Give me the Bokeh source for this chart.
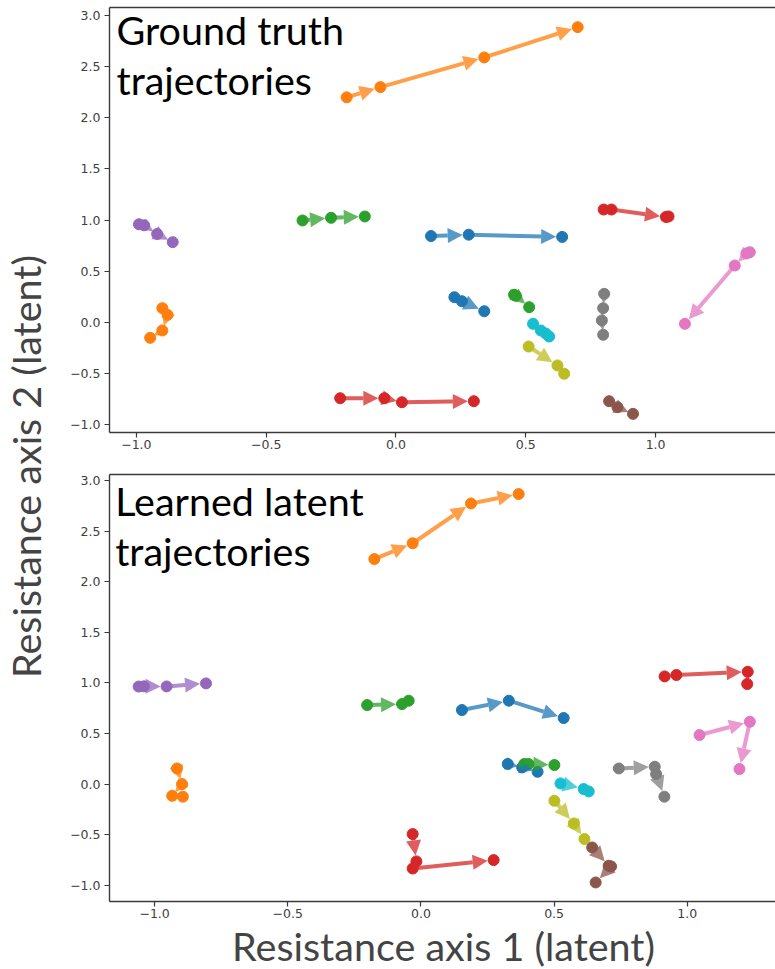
import math
from bokeh.plotting import figure
from bokeh.layouts import row, column
from bokeh.models import (Range1d, FixedTicker, CustomJSTickFormatter, LinearAxis,
                          Arrow, NormalHead, Label)
from bokeh.embed import file_html
from bokeh.resources import INLINE

# ---------------- data ----------------
traj_colors = ["#ff7f0e", "#9467bd", "#2ca02c", "#1f77b4", "#d62728", "#ff7f0e", "#d62728",
               "#1f77b4", "#2ca02c", "#17becf", "#bcbd22", "#7f7f7f", "#e377c2", "#8c564b"]

# Ground truth trajectories (one list per trajectory, same order as traj_colors)
gt_x = [
    [-0.19, -0.06, 0.34, 0.70],
    [-0.99, -0.97, -0.92, -0.86],
    [-0.36, -0.25, -0.12],
    [0.135, 0.28, 0.64],
    [0.80, 0.83, 1.04, 1.05],
    [-0.90, -0.88, -0.90, -0.947],
    [-0.215, -0.045, 0.023, 0.30],
    [0.225, 0.254, 0.34],
    [0.455, 0.462, 0.513],
    [0.528, 0.558, 0.577, 0.59],
    [0.511, 0.622, 0.648],
    [0.802, 0.798, 0.793, 0.798],
    [1.363, 1.35, 1.305, 1.113],
    [0.821, 0.853, 0.913],
]
gt_y = [
    [2.20, 2.30, 2.59, 2.886],
    [0.96, 0.95, 0.865, 0.785],
    [0.997, 1.023, 1.036],
    [0.845, 0.858, 0.836],
    [1.104, 1.104, 1.031, 1.036],
    [0.14, 0.075, -0.078, -0.15],
    [-0.74, -0.74, -0.779, -0.769],
    [0.247, 0.208, 0.11],
    [0.271, 0.261, 0.15],
    [-0.013, -0.078, -0.108, -0.137],
    [-0.235, -0.42, -0.501],
    [0.28, 0.14, 0.02, -0.12],
    [0.687, 0.675, 0.557, -0.013],
    [-0.769, -0.828, -0.893],
]

# Learned latent trajectories
lt_x = [
    [-0.175, -0.031, 0.188, 0.367],
    [-1.06, -1.04, -0.955, -0.807],
    [-0.202, -0.071, -0.046],
    [0.154, 0.33, 0.536],
    [0.915, 0.959, 1.227, 1.225],
    [-0.916, -0.897, -0.934, -0.894],
    [-0.031, -0.017, -0.031, 0.273],
    [0.326, 0.38, 0.438],
    [0.388, 0.404, 0.501],
    [0.524, 0.611, 0.63],
    [0.501, 0.574, 0.614],
    [0.743, 0.878, 0.883, 0.914],
    [1.046, 1.235, 1.196],
    [0.643, 0.705, 0.714, 0.656],
]
lt_y = [
    [2.224, 2.38, 2.773, 2.866],
    [0.965, 0.967, 0.966, 0.996],
    [0.782, 0.792, 0.825],
    [0.733, 0.825, 0.654],
    [1.065, 1.079, 1.111, 0.99],
    [0.156, 0.002, -0.114, -0.123],
    [-0.492, -0.762, -0.832, -0.749],
    [0.2, 0.166, 0.123],
    [0.2, 0.2, 0.19],
    [0.008, -0.047, -0.071],
    [-0.163, -0.387, -0.541],
    [0.156, 0.173, 0.101, -0.123],
    [0.486, 0.617, 0.15],
    [-0.624, -0.805, -0.812, -0.97],
]

x_ticks = [-1.0, -0.5, 0.0, 0.5, 1.0]
y_ticks = [-1.0, -0.5, 0.0, 0.5, 1.0, 1.5, 2.0, 2.5, 3.0]

top_title = ["Ground truth", "trajectories"]
bottom_title = ["Learned latent", "trajectories"]
x_label = "Resistance axis 1 (latent)"
y_label = "Resistance axis 2 (latent)"

TITLE_FONT = "Lato"
TITLE_SIZE = "39.5px"
BASE_SHIFT = 16.6   # px offset of the rendered alphabetic baseline
TICK_FONT = "DejaVu Sans"
SPINE = "#3a3a3a"

TOP_XR = (-1.1035, 1.4619)
TOP_YR = (-1.075, 3.078)
BOT_XR = (-1.1694, 1.3313)
BOT_YR = (-1.158, 3.059)

fmt = CustomJSTickFormatter(code="return tick.toFixed(1).replace('-', '\u2212');")


def make_panel(xs, ys, xr, yr, width, height, bl, bt, bb, title, title_x, title_y):
    p = figure(width=width, height=height, x_range=Range1d(*xr), y_range=Range1d(*yr),
               toolbar_location=None, output_backend="svg",
               min_border_left=bl, min_border_right=0, min_border_top=bt, min_border_bottom=bb)
    p.xgrid.visible = False
    p.ygrid.visible = False
    p.outline_line_color = None
    p.background_fill_color = "white"
    p.border_fill_color = "white"
    for ax, ticks in ((p.xaxis[0], x_ticks), (p.yaxis[0], y_ticks)):
        ax.ticker = FixedTicker(ticks=ticks)
        ax.formatter = fmt
        ax.axis_line_color = SPINE
        ax.axis_line_width = 1.4
        ax.major_tick_line_color = SPINE
        ax.major_tick_line_width = 1.2
        ax.major_tick_out = 5
        ax.major_tick_in = 0
        ax.minor_tick_out = 0
        ax.minor_tick_in = 0
        ax.major_label_text_font = TICK_FONT
        ax.major_label_text_font_size = "12.5px"
        ax.major_label_text_color = "#404040"
        ax.major_label_standoff = 4
    p.xaxis[0].major_label_standoff = 2
    top_axis = LinearAxis(ticker=FixedTicker(ticks=[]), axis_line_color=SPINE, axis_line_width=1.4,
                          major_tick_out=0, major_tick_in=0, minor_tick_out=0, minor_tick_in=0,
                          major_label_text_font_size="0px", major_label_standoff=0)
    p.add_layout(top_axis, "above")

    fw = width - bl
    fh = height - bt - bb
    sx = fw / (xr[1] - xr[0])
    sy = fh / (yr[1] - yr[0])

    for tx, ty, c in zip(xs, ys, traj_colors):
        for i in range(len(tx) - 1):
            dx = (tx[i + 1] - tx[i]) * sx
            dy = (ty[i + 1] - ty[i]) * sy
            L = math.hypot(dx, dy)
            if L < 1:
                continue
            shrink = min(6.0, 0.3 * L)
            f = (L - shrink) / L
            xe = tx[i] + (tx[i + 1] - tx[i]) * f
            ye = ty[i] + (ty[i + 1] - ty[i]) * f
            hs = min(15.0, max(7.0, 0.85 * L))
            head = NormalHead(size=hs, fill_color=c, fill_alpha=0.75,
                              line_color=c, line_alpha=0.0)
            p.add_layout(Arrow(end=head, x_start=tx[i], y_start=ty[i], x_end=xe, y_end=ye,
                               line_color=c, line_width=4, line_alpha=0.75))
        p.scatter(tx, ty, size=11, color=c, line_color=c)

    for k, line in enumerate(title):
        p.add_layout(Label(x=title_x, y=title_y[k] + BASE_SHIFT / sy, text=line,
                           text_font=TITLE_FONT, text_font_size=TITLE_SIZE, text_color="black",
                           text_baseline="alphabetic", text_align="left"))
    return p


top = make_panel(gt_x, gt_y, TOP_XR, TOP_YR, 717, 467, 50, 7, 35,
                 top_title, -1.0765, [2.700, 2.211])
bottom = make_panel(lt_x, lt_y, BOT_XR, BOT_YR, 717, 456, 51, 7, 22,
                    bottom_title, -1.148, [2.635, 2.141])


def blank(width, height, xr):
    f = figure(width=width, height=height, x_range=Range1d(*xr), y_range=Range1d(0, height),
               toolbar_location=None, output_backend="svg", min_border=0,
               min_border_left=0, min_border_right=0, min_border_top=0, min_border_bottom=0,
               x_axis_location=None, y_axis_location=None)
    f.xgrid.visible = False
    f.ygrid.visible = False
    f.outline_line_color = None
    return f


ylab = blank(58, 969, (0, 58))
ylab.add_layout(Label(x=42 - BASE_SHIFT, y=969 - 466, text=y_label, angle=math.pi / 2,
                      text_font=TITLE_FONT, text_font_size=TITLE_SIZE,
                      text_align="center", text_baseline="alphabetic"))

# the x-label strip shares the bottom panel's frame (the column aligns frames),
# so it uses the bottom panel's x range and the label is centred on the frame
xlab = blank(717, 46, BOT_XR)
xlab.add_layout(Label(x=(BOT_XR[0] + BOT_XR[1]) / 2 + 0.004, y=7 + BASE_SHIFT, text=x_label,
                      text_font=TITLE_FONT, text_font_size=TITLE_SIZE,
                      text_align="center", text_baseline="alphabetic"))

layout = row(ylab, column(top, bottom, xlab, spacing=0), spacing=0)

open("out.html", "w").write(file_html(layout, INLINE))
